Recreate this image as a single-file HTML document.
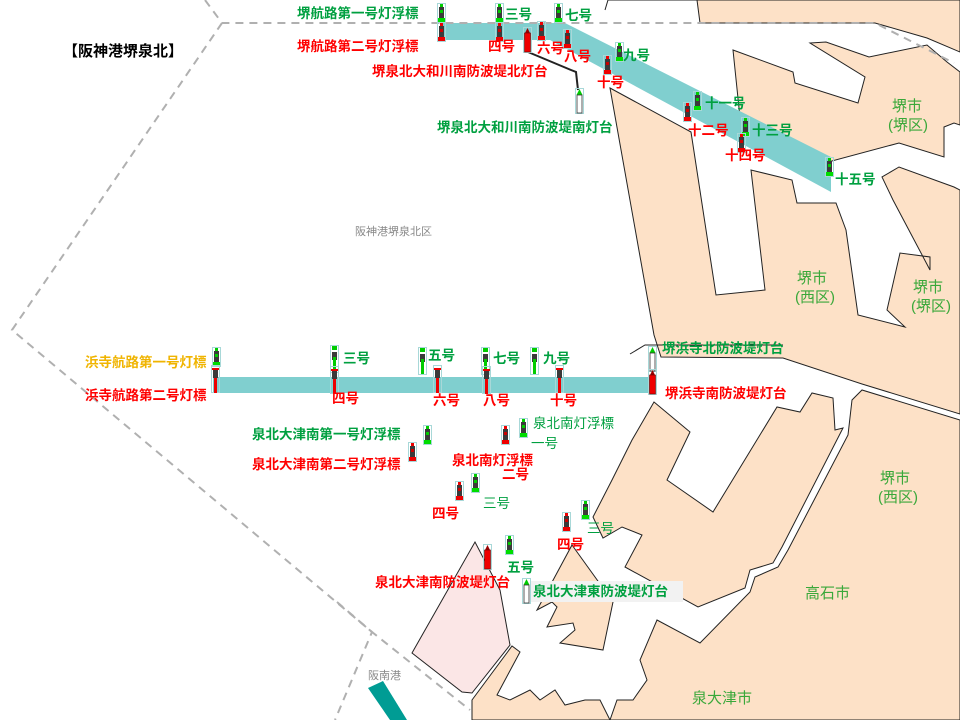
<!DOCTYPE html>
<html><head><meta charset="utf-8"><style>
html,body{margin:0;padding:0;background:#fff;}
svg{display:block;}
text{font-family:"Liberation Sans","Noto Sans CJK JP",sans-serif;}
.b{font-weight:bold;font-size:13.5px;}
.g{fill:#00a040;}
.r{fill:#ff0000;}
.city{font-size:15px;fill:#3aa83a;}
</style></head><body>
<svg width="960" height="720" viewBox="0 0 960 720" xmlns="http://www.w3.org/2000/svg">
<defs>
<symbol id="gb" viewBox="0 0 9 20"><rect x=".5" y=".5" width="8" height="19" fill="none" stroke="#a8d8d8"/><rect x="3" y="1" width="3" height="3" fill="#0c0"/><rect x="2" y="4" width="5" height="12" fill="#3a3a3a"/><rect x="3" y="7" width="3" height="3" fill="#0c0"/><rect x="1" y="15" width="7" height="4" fill="#0d0"/></symbol>
<symbol id="rb" viewBox="0 0 9 20"><rect x=".5" y=".5" width="8" height="19" fill="none" stroke="#a8d8d8"/><rect x="3" y="1" width="3" height="3" fill="#e00"/><rect x="2" y="4" width="5" height="12" fill="#3a3a3a"/><rect x="3" y="7" width="3" height="3" fill="#c00"/><rect x="1" y="15" width="7" height="4" fill="#e00"/></symbol>
<symbol id="rp" viewBox="0 0 9 28"><rect x=".5" y=".5" width="8" height="27" fill="none" stroke="#a8d8d8"/><rect x="1" y="3" width="7" height="2" fill="#e00"/><rect x="2" y="5" width="5" height="8" fill="#3a3a3a"/><rect x="3" y="13" width="3" height="15" fill="#e00"/></symbol>
<symbol id="gp" viewBox="0 0 9 28"><rect x=".5" y=".5" width="8" height="27" fill="none" stroke="#a8d8d8"/><rect x="2" y="1" width="5" height="4" fill="#0c0"/><rect x="2" y="7" width="5" height="8" fill="#3a3a3a"/><rect x="3" y="12" width="3" height="15" fill="#0c0"/></symbol>
<symbol id="rt" viewBox="0 0 9 26"><rect x=".5" y=".5" width="8" height="25" fill="none" stroke="#a8d8d8"/><path d="M4.5 1 L7 6 L2 6Z" fill="#900"/><rect x="1.5" y="6" width="6" height="19" fill="#e00" stroke="#600" stroke-width=".6"/></symbol>
<symbol id="wt" viewBox="0 0 9 26"><rect x=".5" y=".5" width="8" height="25" fill="none" stroke="#a8d8d8"/><path d="M4.5 1 L7.5 7 L1.5 7Z" fill="#0c0"/><rect x="2" y="7" width="5" height="18" fill="#fff" stroke="#333" stroke-width=".8"/></symbol>
</defs>

<!-- land -->
<g fill="#fde1c7" stroke="#222" stroke-width="1">
<polygon points="697,0 960,0 960,52 927,38 875,23 700,23"/>
<polygon points="733,50 793,72 795,83 858,103 865,77 810,43 826,42 869,57 927,45 947,62 960,72 960,125 954,123 944,127 944,157 899,143 817,165 742,137"/>
<polygon points="610,88 691,132 716,295 765,290 751,170 792,180 797,203 836,203 846,230 858,315 905,327 887,310 900,253 930,257 930,270 893,200 882,177 899,167 954,187 960,190 960,414 862,384 783,358 661,357 654,335"/>
<polygon points="654,402 690,432 667,480 713,512 777,407 800,412 812,393 833,398 835,430 843,428 782,547 773,563 750,570 745,588 698,607 625,567 642,535 622,527 603,538 593,517 612,480 632,440"/>
<polygon points="852,400 862,390 960,420 960,720 610,720 617,700 633,700 647,680 640,660 657,620 700,643 750,592 755,577 778,567 788,550 848,435"/>
<polygon points="572,545 613,602 603,650 560,643 575,630 573,623 547,627 557,607 552,602 537,610"/>
<polygon points="472,720 472,700 512,646 520,652 497,695 510,700 530,690 540,700 555,690 565,705 585,700 600,700 610,720"/>
</g>
<polygon fill="#fbe6e6" stroke="#222" stroke-width="1" points="412,653 475,542 500,590 510,645 472,693 462,692"/>
<polyline fill="none" stroke="#222" stroke-width="1" points="605,10 608,0 697,0"/>
<polyline fill="none" stroke="#222" stroke-width="1" points="630,354 645,345 654,345 783,345"/>

<!-- fairways -->
<polygon fill="#80cfcf" points="440,23 565,23 831,157 831,192 550,40 440,40"/>
<rect x="213" y="377" width="442" height="16" fill="#80cfcf"/>

<!-- dashed boundaries -->
<g fill="none" stroke="#b0b0b0" stroke-width="2" stroke-dasharray="8,6">
<polyline points="205,0 222,23 875,23 954,63"/>
<polyline points="222,23 12,330 372,632 470,710"/>
<polyline points="337,602 372,632 335,720"/>
</g>
<polygon fill="#009c94" points="368,688 383,681 407,720 390,720"/>

<!-- breakwater line -->
<polyline fill="none" stroke="#222" stroke-width="2" points="528,52 571,70 576,72 578,90"/>

<!-- buoys top -->
<use href="#gb" x="437" y="3" width="9" height="20"/>
<use href="#rb" x="437" y="22" width="9" height="20"/>
<use href="#gb" x="495" y="3" width="9" height="20"/>
<use href="#rb" x="495" y="22" width="9" height="20"/>
<use href="#rb" x="537" y="21" width="9" height="20"/>
<use href="#rt" x="523" y="27" width="9" height="26"/>
<use href="#gb" x="554" y="3" width="9" height="20"/>
<use href="#rb" x="563" y="29" width="9" height="20"/>
<use href="#gb" x="615" y="42" width="9" height="20"/>
<use href="#rb" x="603" y="55" width="9" height="20"/>
<use href="#gb" x="693" y="91" width="9" height="20"/>
<use href="#rb" x="683" y="102" width="9" height="20"/>
<use href="#gb" x="741" y="117" width="9" height="20"/>
<use href="#rb" x="737" y="133" width="9" height="20"/>
<use href="#gb" x="825" y="157" width="9" height="20"/>
<use href="#wt" x="575" y="88" width="9" height="26"/>

<!-- buoys lower fairway -->
<use href="#gb" x="212" y="347" width="9" height="20"/>
<use href="#rp" x="211" y="365" width="9" height="28"/>
<use href="#gp" x="330" y="345" width="9" height="28"/>
<use href="#rp" x="330" y="366" width="9" height="28"/>
<use href="#gp" x="418" y="347" width="9" height="28"/>
<use href="#rp" x="433" y="365" width="9" height="28"/>
<use href="#gp" x="481" y="347" width="9" height="28"/>
<use href="#rp" x="482" y="366" width="9" height="28"/>
<use href="#gp" x="530" y="347" width="9" height="28"/>
<use href="#rp" x="555" y="365" width="9" height="28"/>
<use href="#wt" x="648" y="346" width="9" height="26"/>
<use href="#rt" x="648" y="369" width="9" height="26"/>

<!-- other buoys -->
<use href="#gb" x="423" y="425" width="9" height="20"/>
<use href="#rb" x="408" y="442" width="9" height="20"/>
<use href="#rb" x="501" y="425" width="9" height="20"/>
<use href="#gb" x="519" y="418" width="9" height="20"/>
<use href="#gb" x="471" y="473" width="9" height="20"/>
<use href="#rb" x="455" y="481" width="9" height="20"/>
<use href="#rb" x="562" y="512" width="9" height="20"/>
<use href="#gb" x="581" y="500" width="9" height="20"/>
<use href="#rt" x="483" y="543" width="9" height="28"/>
<use href="#gb" x="505" y="535" width="9" height="20"/>
<use href="#wt" x="522" y="578" width="9" height="26"/>

<!-- labels -->
<text x="63" y="56" font-size="15" font-weight="bold" fill="#000">【阪神港堺泉北】</text>
<text x="355" y="235" font-size="11" fill="#888">阪神港堺泉北区</text>
<text x="368" y="679" font-size="11" fill="#888">阪南港</text>

<text class="b g" x="297" y="18">堺航路第一号灯浮標</text>
<text class="b r" x="297" y="51">堺航路第二号灯浮標</text>
<text class="b r" x="372" y="76">堺泉北大和川南防波堤北灯台</text>
<text class="b g" x="437" y="132">堺泉北大和川南防波堤南灯台</text>
<text class="b g" x="505" y="19">三号</text>
<text class="b r" x="488" y="51">四号</text>
<text class="b r" x="537" y="53">六号</text>
<text class="b g" x="565" y="20">七号</text>
<text class="b r" x="564" y="61">八号</text>
<text class="b g" x="623" y="60">九号</text>
<text class="b r" x="597" y="87">十号</text>
<text class="b g" x="705" y="108">十一号</text>
<text class="b r" x="688" y="135">十二号</text>
<text class="b g" x="752" y="135">十三号</text>
<text class="b r" x="725" y="160">十四号</text>
<text class="b g" x="835" y="184">十五号</text>

<text class="city" x="892" y="111">堺市</text>
<text class="city" x="888" y="130">(堺区)</text>
<text class="city" x="797" y="283">堺市</text>
<text class="city" x="795" y="302">(西区)</text>
<text class="city" x="913" y="292">堺市</text>
<text class="city" x="911" y="311">(堺区)</text>
<text class="city" x="880" y="483">堺市</text>
<text class="city" x="878" y="502">(西区)</text>
<text class="city" x="805" y="598">高石市</text>
<text class="city" x="692" y="703">泉大津市</text>

<text class="b" x="85" y="367" fill="#f0b400">浜寺航路第一号灯標</text>
<text class="b r" x="85" y="400">浜寺航路第二号灯標</text>
<text class="b g" x="343" y="363">三号</text>
<text class="b r" x="332" y="403">四号</text>
<text class="b g" x="428" y="360">五号</text>
<text class="b r" x="433" y="405">六号</text>
<text class="b g" x="493" y="363">七号</text>
<text class="b r" x="483" y="405">八号</text>
<text class="b g" x="543" y="363">九号</text>
<text class="b r" x="550" y="405">十号</text>
<text class="b g" x="662" y="353">堺浜寺北防波堤灯台</text>
<text class="b r" x="665" y="398">堺浜寺南防波堤灯台</text>

<text class="b g" x="252" y="439">泉北大津南第一号灯浮標</text>
<text class="b r" x="252" y="469">泉北大津南第二号灯浮標</text>
<text x="533" y="428" font-size="13.5" fill="#00a040">泉北南灯浮標</text>
<text x="531" y="448" font-size="13.5" fill="#00a040">一号</text>
<text class="b r" x="452" y="465">泉北南灯浮標</text>
<text class="b r" x="502" y="479">二号</text>
<text x="483" y="508" font-size="13.5" fill="#00a040">三号</text>
<text class="b r" x="432" y="518">四号</text>
<text class="b r" x="557" y="549">四号</text>
<text x="587" y="533" font-size="13.5" fill="#00a040">三号</text>
<text class="b g" x="507" y="572">五号</text>
<text class="b r" x="375" y="587">泉北大津南防波堤灯台</text>
<rect x="531" y="581" width="152" height="21" fill="#f2f2f2"/>
<text class="b g" x="533" y="596">泉北大津東防波堤灯台</text>
</svg>
</body></html>
